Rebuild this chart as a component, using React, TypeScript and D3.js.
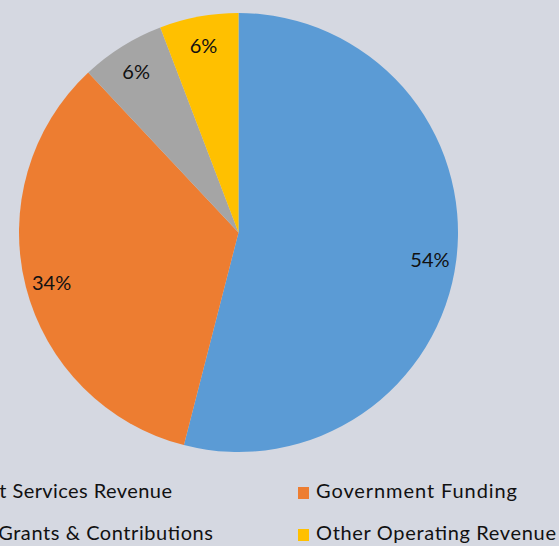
import React from "react";
import * as d3 from "d3";

const categories = [
  "Contract Services Revenue",
  "Government Funding",
  "Private Grants & Contributions",
  "Other Operating Revenue",
];
const values = [54, 34, 6.2, 5.8];
const colors = ["#5b9bd5", "#ed7d31", "#a5a5a5", "#ffc000"];
const legendWidths = [245, 201, 286, 240];

const W = 559;
const H = 546;

export default function App() {
  const cx = 238.5;
  const cy = 232.5;
  const r = 219.5;
  const total = d3.sum(values);
  const pie = d3.pie<number>().sort(null)(values);
  const arc = d3.arc<d3.PieArcDatum<number>>().innerRadius(0).outerRadius(r);
  const labelArc = d3
    .arc<d3.PieArcDatum<number>>()
    .innerRadius(193)
    .outerRadius(193);
  const fmt = d3.format(".0%");
  const font = "Lato, 'Open Sans', sans-serif";

  const colX = d3.scaleOrdinal<number, number>().domain([0, 1]).range([-73, 316]);
  const rowY = d3.scaleOrdinal<number, number>().domain([0, 1]).range([498, 540]);

  return (
    <div style={{ position: "fixed", left: 0, top: 0, width: W, height: H }}>
      <svg width={W} height={H} style={{ display: "block" }}>
        <rect x={0} y={0} width={W} height={H} fill="#d5d8e1" />
        <g transform={`translate(${cx},${cy})`}>
          {pie.map((d, i) => (
            <path key={i} d={arc(d) || ""} fill={colors[i]} />
          ))}
          {pie.map((d, i) => {
            const [x, y] = labelArc.centroid(d);
            return (
              <text
                key={"l" + i}
                x={x}
                y={y + 2}
                textAnchor="middle"
                dominantBaseline="central"
                fontFamily={font}
                fontSize={20}
                fill="#111"
              >
                {fmt(values[i] / total)}
              </text>
            );
          })}
        </g>
        <g>
          {categories.map((c, i) => {
            const col = i % 2;
            const row = Math.floor(i / 2);
            const tx = colX(col);
            const by = rowY(row);
            return (
              <g key={"g" + i}>
                <rect x={tx - 18} y={by - 11} width={11} height={12} fill={colors[i]} />
                <text
                  x={tx}
                  y={by}
                  fontFamily={font}
                  fontSize={20}
                  fill="#111"
                  textLength={legendWidths[i]}
                  lengthAdjust="spacing"
                >
                  {c}
                </text>
              </g>
            );
          })}
        </g>
      </svg>
    </div>
  );
}
